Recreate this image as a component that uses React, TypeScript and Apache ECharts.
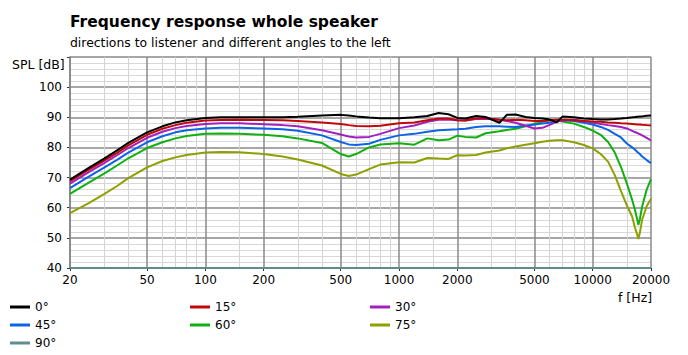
import React, { useEffect, useRef } from "react";
import * as echarts from "echarts";

// Frequencies (Hz) at which the curves were read
const freqs = [20, 25, 30, 35, 40, 50, 60, 70, 80, 100, 120, 150, 200, 250, 300, 400, 500, 550, 600, 700, 800, 1000, 1200, 1400, 1600, 1800, 2000, 2200, 2500, 2800, 3300, 3600, 4000, 4500, 5000, 5500, 6000, 6500, 7000, 8000, 9000, 10000, 11000, 12000, 13000, 14000, 15000, 16000, 16500, 17000, 17200, 17500, 18000, 19000, 20000];

const spl0 = [69.3, 73.2, 76.3, 79, 81.5, 85, 87, 88.3, 89, 89.8, 90, 90, 90, 90, 90.2, 90.6, 90.8, 90.6, 90.3, 89.9, 89.7, 89.7, 90, 90.4, 91.4, 91, 89.8, 89.6, 90.4, 90.1, 88.2, 90.8, 90.9, 90.1, 89.8, 89.6, 89.3, 88.3, 90.3, 90, 89.6, 89.4, 89.3, 89.3, 89.4, 89.6, 89.8, 90, 90.1, 90.2, 90.2, 90.3, 90.3, 90.5, 90.6];
const spl15 = [68.8, 72.6, 75.6, 78.2, 80.7, 84.2, 86.2, 87.4, 88.2, 88.9, 89.1, 89.2, 89.1, 89, 88.8, 88.3, 87.8, 87.4, 87.1, 87, 87.2, 88, 88.3, 89, 89.6, 89.6, 89, 88.9, 89.6, 89.8, 89.2, 89, 89.2, 89, 88.8, 88.8, 89, 89.2, 89.2, 89, 88.8, 88.6, 88.5, 88.3, 88.2, 88, 87.9, 87.8, 87.7, 87.6, 87.6, 87.6, 87.5, 87.4, 87.3];
const spl30 = [68, 71.8, 74.8, 77.4, 79.8, 83.2, 85.2, 86.4, 87.1, 87.8, 88, 88, 87.7, 87.4, 87, 85.7, 84.3, 83.6, 83.3, 83.5, 84.5, 86.4, 87.3, 88.5, 89.2, 89.3, 89, 88.9, 89.4, 89.5, 89.2, 88.8, 88.2, 87.2, 86.3, 86.5, 87.5, 88.5, 89, 89.2, 88.8, 88.3, 87.8, 87.4, 87.1, 86.8, 86.3, 85.5, 85.1, 84.8, 84.6, 84.4, 84, 83.2, 82.3];
const spl45 = [66.5, 70.3, 73.3, 75.9, 78.3, 81.7, 83.7, 85, 85.7, 86.3, 86.5, 86.5, 86.3, 86, 85.5, 84, 81.8, 81, 80.8, 81.2, 82.5, 84, 84.5, 85.2, 85.7, 85.9, 86, 86.2, 86.8, 87, 87, 86.9, 86.8, 87.3, 87.6, 87.9, 88.2, 88.6, 89, 88.8, 88.2, 87.6, 86.8, 85.8, 84.5, 83.3, 81.3, 80, 79.3, 78.5, 78.2, 77.8, 77, 75.8, 74.8];
const spl60 = [64.6, 68.3, 71.3, 74, 76.4, 79.8, 81.7, 83, 83.8, 84.5, 84.6, 84.5, 84.2, 83.7, 83, 81.5, 77.8, 77, 77.8, 80, 81, 81.4, 80.9, 83, 82.4, 82.6, 83.9, 83.5, 83.3, 84.7, 85.4, 85.8, 86.2, 87, 87.8, 88.5, 89, 88.9, 88.6, 87.9, 86.8, 85.6, 84.2, 81.8, 78.3, 73.5, 68.1, 62.5, 59.5, 56, 54.3, 56, 60.4, 66, 69.5];
const spl75 = [58.2, 61.5, 64.5, 67.2, 69.8, 73.4, 75.5, 76.7, 77.5, 78.3, 78.5, 78.4, 77.8, 77, 76, 74, 71.2, 70.5, 71, 72.8, 74.3, 75.1, 75, 76.5, 76.3, 76.2, 77.4, 77.3, 77.5, 78.3, 79, 79.7, 80.3, 80.9, 81.4, 81.9, 82.2, 82.4, 82.4, 81.7, 80.8, 79.7, 77.8, 75.3, 70.8, 65.5, 60.8, 57, 53.5, 51, 49.6, 51.5, 56, 60.5, 63];
const freqs90 = [20, 200, 2000, 20000];
const spl90 = [40, 40, 40, 40];

const majorFreqs = [20, 50, 100, 200, 500, 1000, 2000, 5000, 10000, 20000];
const minorFreqs = [30, 40, 60, 70, 80, 90, 150, 300, 400, 600, 700, 800, 900, 1500, 3000, 4000, 6000, 7000, 8000, 9000, 15000];

const seriesNames = ["0°", "15°", "30°", "45°", "60°", "75°", "90°"];
const seriesColors = ["#000000", "#c00808", "#a020c0", "#0a64e6", "#10b010", "#8ea000", "#5f8c8c"];

const FONT = "DejaVu Sans";

export default function App() {
  const ref = useRef<HTMLDivElement>(null);

  useEffect(() => {
    if (!ref.current) return;
    const chart = echarts.init(ref.current, null, { renderer: "svg" });
    const lx = (f: number) => Math.log10(f);
    const mk = (idx: number, f: number[], v: number[], z: number) => ({
      type: "line",
      name: seriesNames[idx],
      data: f.map((x, i) => [lx(x), v[i]]),
      symbol: "none",
      showSymbol: false,
      clip: true,
      z,
      lineStyle: { color: seriesColors[idx], width: 2 },
      itemStyle: { color: seriesColors[idx] },
      emphasis: { disabled: true },
    });
    const legendBase = {
      orient: "vertical",
      top: 300,
      itemWidth: 20,
      itemHeight: 3,
      itemGap: 4,
      icon: "rect",
      padding: 0,
      textStyle: { fontFamily: FONT, fontSize: 12, color: "#000", lineHeight: 14 },
      selectedMode: false,
    };
    const option: any = {
      animation: false,
      textStyle: { fontFamily: FONT },
      title: {
        text: "Frequency response whole speaker",
        subtext: "directions to listener and different angles to the left",
        left: 70,
        top: 14,
        padding: 0,
        itemGap: 6,
        textStyle: { fontFamily: FONT, fontSize: 15.5, fontWeight: "bold", color: "#000" },
        subtextStyle: { fontFamily: FONT, fontSize: 12.4, color: "#000" },
      },
      legend: [
        { ...legendBase, left: 10, data: ["0°", "45°", "90°"] },
        { ...legendBase, left: 190, data: ["15°", "60°"] },
        { ...legendBase, left: 370, data: ["30°", "75°"] },
      ],
      grid: { left: 70, right: 37, top: 57, bottom: 87, containLabel: false, outerBoundsMode: "none" },
      xAxis: [
        {
          type: "value",
          min: lx(20),
          max: lx(20000),
          axisLine: { show: false },
          axisTick: { show: true, length: 3, customValues: majorFreqs.map(lx), lineStyle: { color: "#333" } },
          axisLabel: {
            customValues: majorFreqs.map(lx),
            formatter: (v: number) => String(Math.round(Math.pow(10, v))),
            fontFamily: FONT,
            fontSize: 12,
            color: "#000",
            margin: 6,
          },
          splitLine: { show: true, lineStyle: { color: "#8a8a8a", width: 1.5 } },
          z: 2,
        },
        {
          type: "value",
          min: lx(20),
          max: lx(20000),
          position: "bottom",
          axisLine: { show: false },
          axisTick: { show: false, customValues: minorFreqs.map(lx) },
          axisLabel: { show: false, customValues: minorFreqs.map(lx) },
          splitLine: { show: true, lineStyle: { color: "#d4d4d4", width: 1 } },
          z: 1,
        },
      ],
      yAxis: {
        type: "value",
        min: 40,
        max: 110,
        interval: 10,
        axisLine: { show: true, lineStyle: { color: "#707070", width: 1.5 } },
        axisTick: { show: true, length: 3, lineStyle: { color: "#333" } },
        axisLabel: {
          formatter: (v: number) => (v === 110 ? "" : String(v)),
          fontFamily: FONT,
          fontSize: 12,
          color: "#000",
          margin: 8,
        },
        splitLine: { show: true, lineStyle: { color: "#8a8a8a", width: 1.5 } },
        minorTick: { show: false, splitNumber: 5 },
        minorSplitLine: { show: true, lineStyle: { color: "#d8d8d8", width: 1 } },
      },
      graphic: [
        {
          type: "text",
          left: 12,
          top: 58,
          style: { text: "SPL [dB]", fontFamily: FONT, fontSize: 12.5, fill: "#000" },
        },
        {
          type: "text",
          left: 618,
          top: 291,
          style: { text: "f [Hz]", fontFamily: FONT, fontSize: 12.5, fill: "#000" },
        },
      ],
      series: [
        mk(6, freqs90, spl90, 3),
        mk(5, freqs, spl75, 4),
        mk(4, freqs, spl60, 5),
        mk(3, freqs, spl45, 6),
        mk(2, freqs, spl30, 7),
        mk(1, freqs, spl15, 8),
        mk(0, freqs, spl0, 9),
      ],
    };
    chart.setOption(option);
    return () => chart.dispose();
  }, []);

  return (
    <div
      ref={ref}
      style={{ position: "absolute", left: 0, top: 0, width: 688, height: 355, background: "#fff" }}
    />
  );
}
